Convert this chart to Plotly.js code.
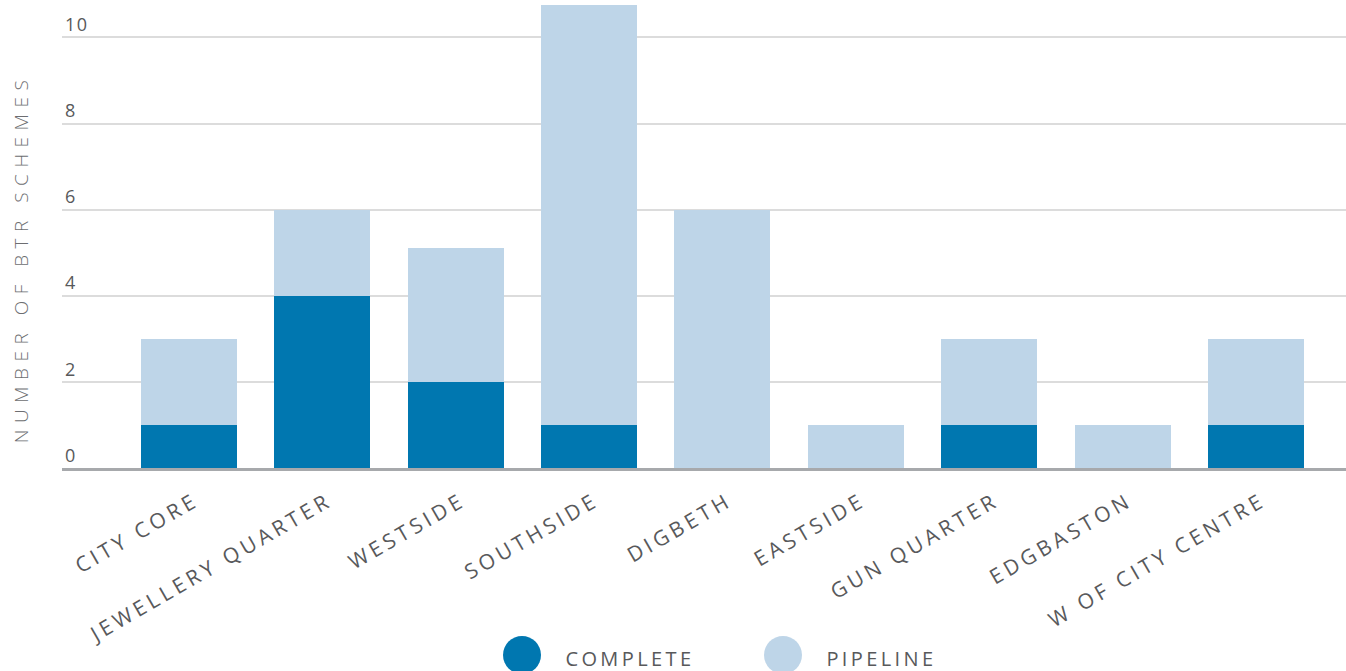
<!DOCTYPE html>
<html>
<head>
<meta charset="utf-8">
<script src="https://cdn.plot.ly/plotly-3.0.1.min.js"></script>
<style>
  html, body { margin: 0; padding: 0; background: #fff; }
  #chart { width: 1346px; height: 671px; }
  #chart .xtick text { letter-spacing: 4px; }
  #chart .ytick text { letter-spacing: 1.5px; }
  #chart .annotation text { letter-spacing: 3.4px; }
  #chart .annotation[data-index="0"] text { letter-spacing: 6.5px; }
</style>
</head>
<body>
<div id="chart"></div>
<script>
// Build-to-rent schemes by Birmingham city-centre area
const areas = ["CITY CORE", "JEWELLERY QUARTER", "WESTSIDE", "SOUTHSIDE", "DIGBETH",
               "EASTSIDE", "GUN QUARTER", "EDGBASTON", "W OF CITY CENTRE"];
const completeSchemes = [1, 4, 2, 1, 0, 0, 1, 0, 1];
const pipelineSchemes = [2, 2, 3.1, 9.75, 6, 1, 2, 1, 2];
const seriesNames = ["COMPLETE", "PIPELINE"];
const seriesColors = ["#0077b0", "#bed5e8"];
const yTicks = [0, 2, 4, 6, 8, 10];

const fontFamily = "'Open Sans', Lato, sans-serif";
const textColor = "#58595b";

const traces = [
  { type: "bar", x: areas, y: completeSchemes, name: seriesNames[0],
    marker: { color: seriesColors[0] }, hoverinfo: "x+y" },
  { type: "bar", x: areas, y: pipelineSchemes, name: seriesNames[1],
    marker: { color: seriesColors[1] }, hoverinfo: "x+y" }
];

// Paper-coordinate helpers for the plot area (left 62px, bottom at 468px)
const W = 1346, H = 671, L = 62, B = 468;
const px = x => (x - L) / (W - L);
const py = y => (B - y) / B;

const annotations = [{
  text: "NUMBER OF BTR SCHEMES", xref: "paper", yref: "paper", showarrow: false,
  x: px(21), xanchor: "center", y: py(259), yanchor: "middle", textangle: -90,
  font: { family: fontFamily, size: 19, color: "#6d6e71", weight: 300 }
}];

// Legend drawn as large dots with labels below the axis
const legendX = [522, 783];
const legendY = 655;
const shapes = seriesNames.map((n, i) => ({
  type: "circle", xref: "paper", yref: "paper", layer: "above",
  x0: px(legendX[i] - 19), x1: px(legendX[i] + 19),
  y0: py(legendY + 19), y1: py(legendY - 19),
  fillcolor: seriesColors[i], line: { width: 0 }
}));
seriesNames.forEach((n, i) => annotations.push({
  text: n, xref: "paper", yref: "paper", showarrow: false,
  x: px(legendX[i] + 55), xanchor: "left", y: py(658), yanchor: "middle",
  font: { family: fontFamily, size: 20, color: textColor }
}));

const layout = {
  width: W, height: H,
  margin: { l: L, r: 0, t: 0, b: H - B },
  paper_bgcolor: "#fff", plot_bgcolor: "#fff",
  barmode: "stack", bargap: 0.28,
  showlegend: false,
  font: { family: fontFamily, color: textColor },
  xaxis: {
    type: "category", range: [-0.952, 8.675],
    tickangle: -30, ticks: "", showgrid: false, zeroline: false,
    showline: true, linecolor: "#a7a9ac", linewidth: 3,
    ticklabelstandoff: 10, ticklabelshift: 6,
    tickfont: { family: fontFamily, size: 21, color: textColor },
    fixedrange: true
  },
  yaxis: {
    range: [0, 10.87], tickvals: yTicks, ticktext: yTicks.map(String),
    ticklabelposition: "inside top", ticks: "",
    showgrid: true, gridcolor: "#dcdcdc", gridwidth: 1.5, zeroline: false,
    tickfont: { family: fontFamily, size: 18, color: textColor },
    fixedrange: true
  },
  shapes: shapes,
  annotations: annotations
};

Plotly.newPlot("chart", traces, layout, { displayModeBar: false, responsive: false });
</script>
</body>
</html>
